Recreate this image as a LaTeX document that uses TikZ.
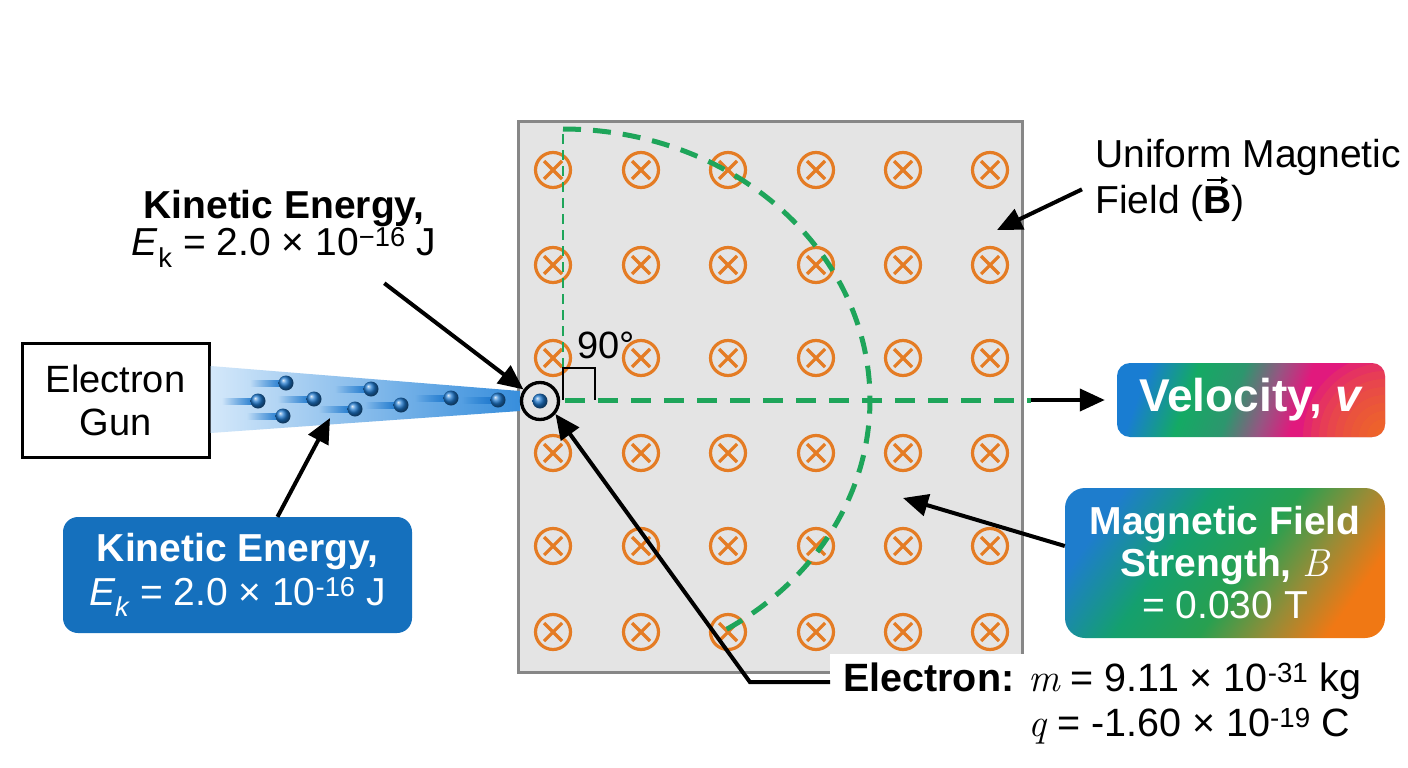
\documentclass[tikz,border=0pt]{standalone}
\usepackage{fontspec}
\setmainfont{Liberation Sans}
\newfontfamily\lmserif{Latin Modern Roman}
\newcommand{\mvar}[1]{{\lmserif\itshape #1}}
\usetikzlibrary{arrows.meta,calc,fadings}
\newcommand{\vecB}{\leavevmode\vbox{\offinterlineskip\halign{\hfil##\hfil\cr\tikz\draw[line width=2pt,-{Triangle[length=7pt,width=7pt]}] (0pt,0pt) -- (21pt,0pt);\cr\noalign{\kern3pt}\textbf{B}\cr}}}
\definecolor{gbox}{RGB}{228,228,228}
\definecolor{gborder}{RGB}{135,135,135}
\definecolor{orng}{RGB}{228,124,36}
\definecolor{pathgreen}{RGB}{30,165,90}
\definecolor{kebl}{RGB}{21,112,189}
\definecolor{dotblue}{RGB}{30,120,205}
\definecolor{beamL}{RGB}{212,232,250}
\definecolor{beamR}{RGB}{55,142,220}
\definecolor{vblue}{RGB}{25,125,210}
\definecolor{vgreen}{RGB}{20,170,100}
\definecolor{vteal}{RGB}{45,150,110}
\definecolor{vmauve}{RGB}{150,85,130}
\definecolor{vmag}{RGB}{225,25,125}
\definecolor{vorange}{RGB}{245,125,20}
\definecolor{mblue}{RGB}{30,125,205}
\definecolor{mgreen}{RGB}{20,160,110}
\definecolor{mgreen2}{RGB}{40,160,80}
\definecolor{molive}{RGB}{150,140,55}
\definecolor{morange}{RGB}{240,120,20}
\tikzfading[name=streakfade, left color=transparent!100, right color=transparent!0]
\pgfdeclarehorizontalshading{velshade}{100bp}{color(0bp)=(vblue); color(25bp)=(vblue); color(36bp)=(vgreen); color(46bp)=(vteal); color(54bp)=(vmauve); color(61bp)=(vmag); color(100bp)=(vmag)}
\pgfdeclarehorizontalshading{msbshade}{100bp}{color(0bp)=(mblue); color(25bp)=(mblue); color(40bp)=(mgreen); color(54bp)=(mgreen2); color(65bp)=(molive); color(75bp)=(morange); color(100bp)=(morange)}
\begin{document}
\begin{tikzpicture}[x=1pt,y=-1pt,
  arr/.style={line width=4pt, -{Triangle[length=25pt,width=22pt]}},
  bx/.style={circle, draw=orng, line width=3.2pt, minimum size=35pt, inner sep=0pt,
    path picture={\draw[orng,line width=3.2pt]
      ($(path picture bounding box.center)+(-9pt,-9pt)$) -- ++(18pt,18pt)
      ($(path picture bounding box.center)+(-9pt,9pt)$) -- ++(18pt,-18pt);}},
  dot/.style={circle, inner sep=0pt, minimum size=15pt, ball color=dotblue},
  lbl/.style={inner sep=0pt, font=\fontsize{39}{44}\selectfont},
  gbox/.style={rounded corners=15pt, text=white, inner sep=0pt}
]
\fill[white] (0,0) rectangle (1408,768);
\useasboundingbox (0,0) rectangle (1408,768);

% field region
\node[draw=gborder, fill=gbox, line width=3pt, minimum width=504pt, minimum height=551pt, inner sep=0pt] (field) at (770,396.5) {};
\foreach \i/\x in {1/553,2/641,3/728,4/816,5/903,6/990}
  \foreach \j/\y in {1/170,2/265,3/358,4/453,5/546,6/632}
    \node[bx] (b\i\j) at (\x,\y) {};

% electron gun and beam
\node[draw=black, fill=white, line width=3pt, minimum width=187pt, minimum height=114pt, inner sep=0pt, align=center, font=\fontsize{38}{43}\selectfont] (gun) at (115.5,400) {Electron\\Gun};
\shade[left color=beamL, right color=beamR] (gun.east |- 0,366) -- (520,391) -- (520,411) -- (gun.east |- 0,433) -- cycle;
\foreach \n/\x/\y in {1/286/383, 2/258/401, 3/283/416, 4/314/399, 5/371/389, 6/355/409, 7/401/405, 8/451/398, 9/498/400} {
  \fill[dotblue, path fading=streakfade] (\x-36,\y-3.5) rectangle (\x-3,\y+3.5);
  \node[dot] (p\n) at (\x,\y) {};
}

% trajectory
\coordinate (pathend) at (1031,400);
\draw[pathgreen, line width=2.5pt, dash pattern=on 10pt off 6pt] (563,400) -- (563,129);
\draw[pathgreen, line width=5pt, dash pattern=on 18pt off 12pt] plot[smooth, domain=-90:60, samples=60] ({563+307*cos(\x)},{400+271*sin(\x)});
\draw[pathgreen, line width=5pt, dash pattern=on 20pt off 13pt] (565,400) -- (pathend);
\draw[line width=2.8pt] (563,400) -- (563,368) -- (595,368) -- (595,400);
\node[lbl, anchor=base west, font=\fontsize{38}{42}\selectfont] (ang) at (577,358) {90°};

% entry electron
\node[circle, draw=black, fill=gbox, line width=3.3pt, minimum size=37pt, inner sep=0pt] (ent) at (540,401) {};
\node[dot] (edot) at (540,401) {};

% labels
\node[lbl, align=center, anchor=north, font=\fontsize{39}{36}\selectfont] (ke1) at (284,190) {\textbf{Kinetic Energy,}\\\textit{E}\textsubscript{k} = 2.0 × 10\textsuperscript{−16} J};
\node[gbox, fill=kebl, minimum width=349pt, minimum height=116pt, align=center, font=\fontsize{39}{44}\selectfont] (kebox) at (237.5,575) {\textbf{Kinetic Energy,}\\\textit{E\textsubscript{k}} = 2.0 × 10\textsuperscript{-16} J};
\node[lbl, align=left, anchor=north west, font=\fontsize{39}{44}\selectfont] (uni) at (1095,139) {Uniform Magnetic\\Field (\vecB)};
\node[gbox, rounded corners=13pt, shading=velshade, shading angle=-20, minimum width=268pt, minimum height=74pt, font=\fontsize{46}{48}\selectfont,
  path picture={\foreach \r in {10,18,...,82} \fill[vorange, opacity=0.14] (path picture bounding box.south east) circle (\r pt);}] (vel) at (1251,400) {\textbf{Velocity, \textit{v}}};
\node[gbox, rounded corners=20pt, shading=msbshade, shading angle=-35, minimum width=320pt, minimum height=150pt, align=center, font=\fontsize{39}{42}\selectfont] (msb) at (1225,563) {\textbf{Magnetic Field}\\\textbf{Strength,} \mvar{B}\\= 0.030 T};
\node[fill=white, anchor=north west, inner xsep=13pt, inner ysep=6pt, font=\fontsize{39.5}{45}\selectfont] (el) at (830,654)
  {\begin{tabular}{@{}l@{\hspace{14pt}}l@{}}\textbf{Electron:} & \mvar{m} = 9.11 × 10\textsuperscript{-31} kg\\ & \mvar{q} = -1.60 × 10\textsuperscript{-19} C\end{tabular}};

% connectors
\coordinate (beamtgt) at (330,418);
\coordinate (fieldpt) at (903,498);
\coordinate (fieldpt2) at (997,230);
\draw[arr] ($(ke1.south east)+(-52,16)$) -- (ent.145);
\draw[arr] ($(kebox.north)+(40,0)$) -- (beamtgt);
\draw[arr] ($(el.west)+(0,-23)$) -- ++(-80,0) -- (ent.-40);
\draw[arr] ($(msb.west)+(0,-17)$) -- (fieldpt);
\draw[arr] ($(uni.west)+(-13,9)$) -- (fieldpt2);
\draw[arr] (pathend) -- ($(vel.west)+(-12,0)$);
\end{tikzpicture}
\end{document}
